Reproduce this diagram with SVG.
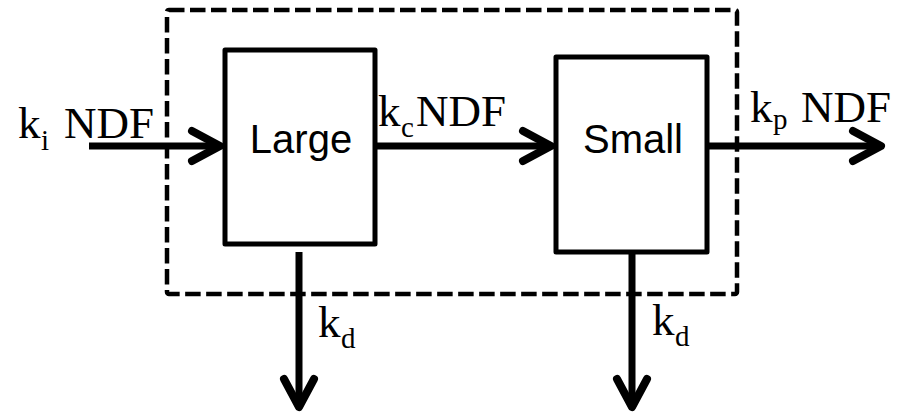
<svg xmlns="http://www.w3.org/2000/svg" width="909" height="414" viewBox="0 0 909 414">
<style>
.box{fill:#fff;stroke:#000;stroke-width:5;stroke-linejoin:round}
.frame{fill:none;stroke:#000;stroke-width:4.5;stroke-dasharray:15.5 5.5}
.conn{fill:none;stroke:#000;stroke-width:7}
.head{fill:none;stroke:#000;stroke-width:8;stroke-linecap:round;stroke-linejoin:round}
.lab{font-family:"Liberation Serif","Times New Roman",serif;font-size:45px;fill:#000}
.sub{font-size:29px}
.name{font-family:"Liberation Sans",Arial,sans-serif;font-size:40px;fill:#000;text-anchor:middle}
</style>
<defs>
<marker id="arr" markerUnits="userSpaceOnUse" viewBox="-40 -25 50 50" markerWidth="50" markerHeight="50" refX="0" refY="0" orient="auto" overflow="visible">
<path class="head" d="M-28,-15 L0,0 L-28,15"/>
</marker>
</defs>
<rect id="boundary" class="frame" x="167" y="10" width="570" height="284" rx="2"/>
<g id="large">
<rect class="box" x="225" y="50" width="150" height="194"/>
<text class="name" x="301" y="153">Large</text>
</g>
<g id="small">
<rect class="box" x="556" y="57" width="151" height="195"/>
<text class="name" x="633" y="153">Small</text>
</g>
<g id="connectors">
<line class="conn" x1="89" y1="146" x2="220" y2="146" marker-end="url(#arr)"/>
<line class="conn" x1="377" y1="146" x2="551" y2="146" marker-end="url(#arr)"/>
<line class="conn" x1="709" y1="146" x2="881" y2="146" marker-end="url(#arr)"/>
<line class="conn" x1="299" y1="252" x2="299" y2="407" marker-end="url(#arr)"/>
<line class="conn" x1="632" y1="254" x2="632" y2="407" marker-end="url(#arr)"/>
</g>
<g id="labels">
<text class="lab" x="18" y="138">k<tspan class="sub" x="41" y="150">i</tspan><tspan x="64" y="138">NDF</tspan></text>
<text class="lab" x="378" y="126">k<tspan class="sub" x="401" y="137">c</tspan><tspan x="416" y="126">NDF</tspan></text>
<text class="lab" x="750" y="122">k<tspan class="sub" x="773" y="129">p</tspan><tspan x="801" y="122">NDF</tspan></text>
<text class="lab" x="318" y="337">k<tspan class="sub" x="341" y="348">d</tspan></text>
<text class="lab" x="652" y="335">k<tspan class="sub" x="675" y="346">d</tspan></text>
</g>
</svg>
